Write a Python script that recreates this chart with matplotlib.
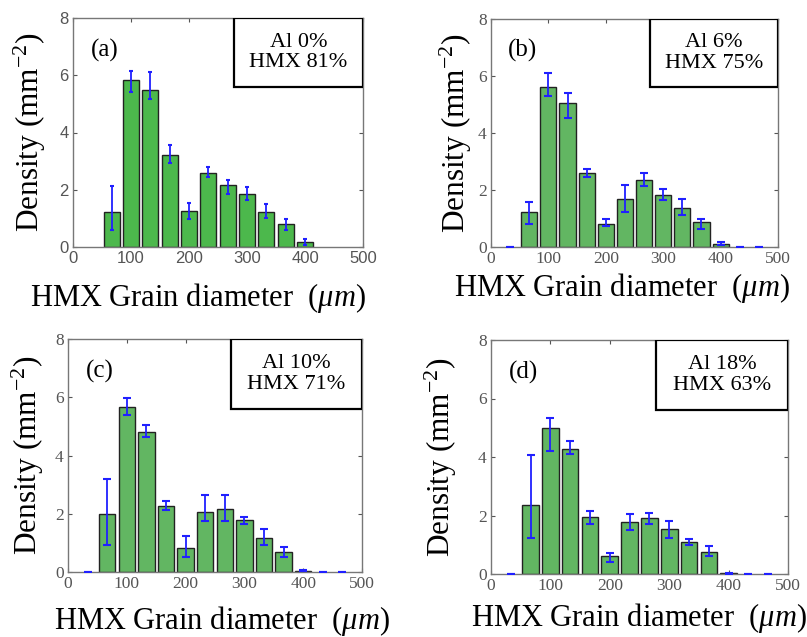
import numpy as np
import matplotlib
matplotlib.use('Agg')
import matplotlib.pyplot as plt
from matplotlib.patches import Rectangle

plt.rcParams['font.family'] = 'Liberation Serif'
plt.rcParams['mathtext.fontset'] = 'custom'
plt.rcParams['mathtext.rm'] = 'Liberation Serif'
plt.rcParams['mathtext.it'] = 'Liberation Serif:italic'

# bin centres (um), 33.3 um bins
centres = [33.3, 66.7, 100, 133.3, 166.7, 200, 233.3, 266.7, 300, 333.3, 366.7, 400, 433.3, 466.7]

panel_tags = ['(a)', '(b)', '(c)', '(d)']
al_pct = [0, 6, 10, 18]
hmx_pct = [81, 75, 71, 63]

dens_a = [0, 1.21, 5.84, 5.47, 3.21, 1.25, 2.59, 2.17, 1.85, 1.23, 0.82, 0.19, 0, 0]
top_a = [0, 2.14, 6.16, 6.12, 3.56, 1.53, 2.80, 2.34, 2.08, 1.51, 0.97, 0.29, 0, 0]
bot_a = [0, 0.58, 5.40, 5.18, 2.94, 0.97, 2.45, 1.85, 1.64, 1.03, 0.58, 0.06, 0, 0]

dens_b = [0, 1.22, 5.62, 5.07, 2.58, 0.82, 1.70, 2.34, 1.83, 1.36, 0.88, 0.11, 0, 0]
top_b = [0, 1.57, 6.11, 5.42, 2.75, 0.97, 2.19, 2.60, 2.04, 1.67, 1.00, 0.16, 0, 0]
bot_b = [0, 0.80, 5.29, 4.54, 2.44, 0.73, 1.23, 2.13, 1.64, 1.11, 0.64, 0.06, 0, 0]

dens_c = [0, 1.99, 5.68, 4.82, 2.27, 0.83, 2.07, 2.18, 1.80, 1.18, 0.68, 0.05, 0, 0]
top_c = [0, 3.19, 5.99, 5.05, 2.45, 1.24, 2.66, 2.66, 1.89, 1.49, 0.86, 0.08, 0, 0]
bot_c = [0, 0.94, 5.40, 4.65, 2.12, 0.52, 1.76, 1.76, 1.66, 0.91, 0.52, 0.02, 0, 0]

dens_d = [0, 2.36, 4.98, 4.27, 1.94, 0.62, 1.77, 1.90, 1.53, 1.08, 0.76, 0.03, 0, 0]
top_d = [0, 4.07, 5.32, 4.56, 2.17, 0.73, 2.05, 2.07, 1.82, 1.19, 0.97, 0.05, 0, 0]
bot_d = [0, 1.22, 4.22, 4.10, 1.71, 0.42, 1.50, 1.71, 1.22, 0.99, 0.62, 0.01, 0, 0]

dens = [dens_a, dens_b, dens_c, dens_d]
tops = [top_a, top_b, top_c, top_d]
bots = [bot_a, bot_b, bot_c, bot_d]

# axes positions in pixels: left, right, top, bottom
W, H = 807, 637
boxes = [(73, 363, 18, 247), (491, 778, 19, 247), (68, 362, 339, 572), (491, 788, 340, 574)]
bar_colors = ['#4cb84c', '#62b662', '#62b662', '#62b662']
ylab_x = [-0.086, -0.059, -0.075, -0.108]
xlab_x = [0.43, 0.455, 0.525, 0.50]
xlab_y = [-0.15, -0.105, -0.138, -0.117]

fig = plt.figure(figsize=(W / 100, H / 100), dpi=100)

for i in range(4):
    l, r, t, b = boxes[i]
    ax = fig.add_axes([l / W, 1 - b / H, (r - l) / W, (b - t) / H])
    x = np.array(centres)
    y = np.array(dens[i])
    lo = y - np.array(bots[i])
    hi = np.array(tops[i]) - y
    ax.bar(x, y, width=28, color=bar_colors[i], edgecolor='#222222',
           linewidth=1.0 * (y > 0), zorder=2)
    cap = 1.5 if i == 0 else 3
    keep = y > 0 if i == 0 else np.ones(len(y), bool)
    ax.errorbar(x[keep], y[keep], yerr=[lo[keep], hi[keep]], fmt='none', ecolor='#2020ff',
                elinewidth=1.3, capsize=cap, capthick=1.5, zorder=3)
    ax.set_xlim(0, 500)
    ax.set_ylim(0, 8)
    ax.set_xticks([0, 100, 200, 300, 400, 500])
    ax.set_yticks([0, 2, 4, 6, 8])
    ax.tick_params(direction='in', top=True, right=True, length=3, width=0.8,
                   colors='#555555', labelsize=12.5, pad=3)
    if i == 0:
        for lab in ax.get_xticklabels() + ax.get_yticklabels():
            lab.set_family('Liberation Sans')
            lab.set_fontsize(12)
    for s in ax.spines.values():
        s.set_color('#777777')
        s.set_linewidth(1.0)

    ax.set_ylabel('Density (mm$^{-2}$)', fontsize=22.5)
    ax.yaxis.set_label_coords(ylab_x[i], 0.5)
    ax.set_xlabel(r'HMX Grain diameter  ($\mathit{\mu m}$)', fontsize=22)
    ax.xaxis.set_label_coords(xlab_x[i], xlab_y[i])

    ax.text(0.06, 0.86, panel_tags[i], transform=ax.transAxes, fontsize=18, va='center')
    ax.add_patch(Rectangle((0.555, 0.70), 0.445, 0.30, transform=ax.transAxes,
                           facecolor='white', edgecolor='black', linewidth=1.6, zorder=4))
    ax.text(0.7775, 0.85, 'Al %d%%\nHMX %d%%' % (al_pct[i], hmx_pct[i]), transform=ax.transAxes,
            fontsize=16, ha='center', va='center', linespacing=1.12, zorder=5)

fig.savefig('out.png', dpi=100)
